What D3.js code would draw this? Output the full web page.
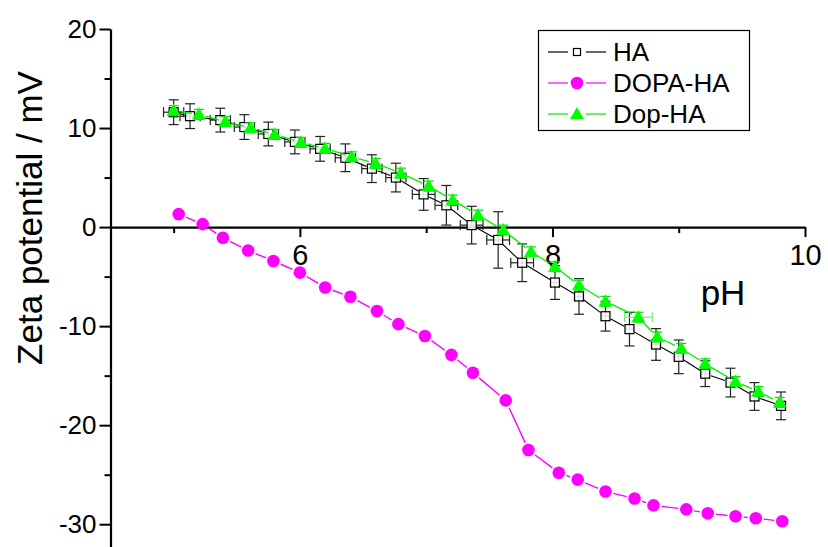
<!DOCTYPE html>
<html>
<head>
<meta charset="utf-8">
<script src="https://cdn.jsdelivr.net/npm/d3@7"></script>
<style>
  body { margin: 0; background: #fff; }
  svg { display: block; font-family: "Liberation Sans", Arial, sans-serif; }
</style>
</head>
<body>
<div id="chart"></div>
<script>
// pH readings and zeta potentials (mV) for each sample
const phHA = [5.00, 5.13, 5.37, 5.56, 5.75, 5.96, 6.16, 6.36, 6.57, 6.76, 6.98, 7.16, 7.36, 7.57, 7.76, 8.02, 8.21, 8.42, 8.61, 8.82, 9.00, 9.21, 9.41, 9.60, 9.81];
const zetaHA = [11.6, 11.2, 10.8, 10.1, 9.4, 8.6, 7.9, 7.0, 5.9, 5.0, 3.3, 2.2, 0.2, -1.3, -3.6, -5.6, -7.0, -9.0, -10.3, -11.85, -13.1, -14.8, -15.7, -17.1, -18.05];
const errHA = [1.25, 1.25, 1.2, 1.25, 1.2, 1.2, 1.25, 1.4, 1.4, 1.45, 1.6, 2.0, 1.9, 2.85, 1.9, 1.7, 1.8, 1.5, 1.7, 1.6, 1.7, 1.3, 1.45, 1.4, 1.4];
const xerrHA = [0.08, 0.08, 0.08, 0.08, 0.08, 0.08, 0.08, 0.08, 0.08, 0.08, 0.09, 0.09, 0.09, 0.09, 0.09, 0.03, 0.03, 0.03, 0.03, 0.03, 0.03, 0.03, 0.03, 0.03, 0.03];

const phDOPA = [5.04, 5.23, 5.39, 5.59, 5.79, 6.00, 6.20, 6.40, 6.61, 6.78, 6.99, 7.20, 7.37, 7.63, 7.81, 8.05, 8.20, 8.42, 8.65, 8.80, 9.06, 9.23, 9.45, 9.61, 9.82];
const zetaDOPA = [1.31, 0.3, -1.08, -2.36, -3.43, -4.6, -6.1, -7.04, -8.48, -9.8, -11.0, -12.9, -14.7, -17.5, -22.5, -24.8, -25.5, -26.7, -27.4, -28.1, -28.5, -28.9, -29.2, -29.4, -29.7];

const phDop = [5.00, 5.20, 5.41, 5.61, 5.80, 6.01, 6.20, 6.41, 6.60, 6.80, 7.02, 7.21, 7.41, 7.61, 7.83, 8.02, 8.21, 8.42, 8.68, 8.83, 9.02, 9.21, 9.45, 9.63, 9.80];
const zetaDop = [11.75, 11.38, 10.64, 10.03, 9.36, 8.56, 7.95, 7.1, 6.43, 5.45, 4.14, 2.73, 1.21, -0.3, -2.5, -4.0, -5.86, -7.5, -9.1, -11.1, -12.25, -13.8, -15.6, -16.6, -17.7];
const errDop = [0.5, 0.5, 0.5, 0.5, 0.5, 0.5, 0.5, 0.5, 0.5, 0.5, 0.5, 0.5, 0.5, 0.5, 0.5, 0.5, 0.5, 0.5, 0.5, 0.5, 0.5, 0.5, 0.5, 0.5, 0.5];
const xerrDop = [0, 0, 0, 0, 0, 0, 0, 0, 0, 0, 0, 0, 0, 0, 0, 0, 0, 0, 0.11, 0, 0, 0, 0, 0, 0];

const xMajor = [6, 8, 10];
const xMinor = [5, 7, 9];
const yMajor = [20, 10, 0, -10, -20, -30];
const yMinor = [15, 5, -5, -15, -25];

const width = 828;
const height = 547;

const svg = d3.select('#chart')
  .append('svg')
  .attr('width', width)
  .attr('height', height);

const x = d3.scaleLinear().domain([4.5, 10]).range([110.5, 805]);
const y = d3.scaleLinear().domain([20, -32.3]).range([29, 547]);

// plain hyphen minus like the original plot
const plainFormat = d => String(d);

// build point records
function zipSeries(ph, zeta, err, xerr) {
  return ph.map((p, i) => ({ ph: p, z: zeta[i], e: err ? err[i] : 0, xe: xerr ? xerr[i] : 0 }));
}
const ha = zipSeries(phHA, zetaHA, errHA, xerrHA);
const dopa = zipSeries(phDOPA, zetaDOPA);
const dop = zipSeries(phDop, zetaDop, errDop, xerrDop);

// axes
const yAxis = svg.append('g')
  .attr('transform', 'translate(110.5,0)')
  .call(d3.axisLeft(y).tickValues(yMajor).tickSize(11).tickSizeOuter(0).tickPadding(3).tickFormat(plainFormat));
svg.append('g')
  .attr('transform', 'translate(110.5,0)')
  .call(d3.axisLeft(y).tickValues(yMinor).tickSize(6).tickSizeOuter(0).tickFormat(''))
  .select('.domain').remove();
yAxis.selectAll('text').attr('font-size', 26).attr('fill', '#000');

const xAxis = svg.append('g')
  .attr('transform', `translate(0,${y(0)})`)
  .call(d3.axisBottom(x).tickValues(xMajor).tickSize(10).tickSizeOuter(0).tickPadding(7).tickFormat(plainFormat));
svg.append('g')
  .attr('transform', `translate(0,${y(0)})`)
  .call(d3.axisBottom(x).tickValues(xMinor).tickSize(6).tickSizeOuter(0).tickFormat(''))
  .select('.domain').remove();
xAxis.selectAll('text').attr('font-size', 29).attr('fill', '#000');

svg.selectAll('.domain').attr('stroke', '#000').attr('stroke-width', 2.2);
svg.selectAll('.tick line').attr('stroke', '#000').attr('stroke-width', 2);

// axis titles
svg.append('text')
  .attr('transform', 'translate(42,218) rotate(-90)')
  .attr('text-anchor', 'middle')
  .attr('font-size', 35)
  .text('Zeta potential / mV');

svg.append('text')
  .attr('x', 723)
  .attr('y', 305)
  .attr('text-anchor', 'middle')
  .attr('font-size', 35)
  .text('pH');

// connecting lines with gaps at the markers
function drawGappedLine(data, color, gap, sw) {
  const pts = data.map(d => [x(d.ph), y(d.z)]);
  const segs = [];
  for (let i = 0; i < pts.length - 1; i++) {
    const [x0, y0] = pts[i];
    const [x1, y1] = pts[i + 1];
    const len = Math.hypot(x1 - x0, y1 - y0);
    if (len <= 2 * gap + 1) continue;
    const ux = (x1 - x0) / len, uy = (y1 - y0) / len;
    segs.push([[x0 + ux * gap, y0 + uy * gap], [x1 - ux * gap, y1 - uy * gap]]);
  }
  svg.append('g')
    .selectAll('line')
    .data(segs)
    .join('line')
    .attr('x1', d => d[0][0]).attr('y1', d => d[0][1])
    .attr('x2', d => d[1][0]).attr('y2', d => d[1][1])
    .attr('stroke', color)
    .attr('stroke-width', sw);
}

function drawErrorBars(data, color, xColor) {
  const g = svg.append('g').attr('stroke', color).attr('stroke-width', 1.2).attr('fill', 'none');
  const cap = 5;
  data.forEach(d => {
    const cx = x(d.ph);
    const cy = y(d.z);
    if (d.e > 0) {
      const t = y(d.z + d.e), b = y(d.z - d.e);
      g.append('line').attr('x1', cx).attr('x2', cx).attr('y1', t).attr('y2', b);
      g.append('line').attr('x1', cx - cap).attr('x2', cx + cap).attr('y1', t).attr('y2', t);
      g.append('line').attr('x1', cx - cap).attr('x2', cx + cap).attr('y1', b).attr('y2', b);
    }
    if (d.xe > 0) {
      const l = x(d.ph - d.xe), r = x(d.ph + d.xe);
      const gx = g.append('g').attr('stroke', xColor || color);
      gx.append('line').attr('x1', l).attr('x2', r).attr('y1', cy).attr('y2', cy);
      gx.append('line').attr('x1', l).attr('x2', l).attr('y1', cy - cap).attr('y2', cy + cap);
      gx.append('line').attr('x1', r).attr('x2', r).attr('y1', cy - cap).attr('y2', cy + cap);
    }
  });
}

// HA
drawGappedLine(ha, '#000', 6, 1.1);
drawErrorBars(ha, '#222');
svg.append('g')
  .selectAll('rect')
  .data(ha)
  .join('rect')
  .attr('x', d => x(d.ph) - 4.5)
  .attr('y', d => y(d.z) - 4.5)
  .attr('width', 9)
  .attr('height', 9)
  .attr('fill', '#fff')
  .attr('fill-opacity', 0.85)
  .attr('stroke', '#000')
  .attr('stroke-width', 1.2);

// DOPA-HA
drawGappedLine(dopa, '#ff00ff', 8, 1.4);
svg.append('g')
  .selectAll('circle')
  .data(dopa)
  .join('circle')
  .attr('cx', d => x(d.ph))
  .attr('cy', d => y(d.z))
  .attr('r', 6.3)
  .attr('fill', '#ff00ff');

// Dop-HA
const tri = d3.symbol().type(d3.symbolTriangle).size(85);
drawGappedLine(dop, '#00ee00', 7, 1.3);
drawErrorBars(dop, '#00dd00', '#77ee77');
svg.append('g')
  .selectAll('path')
  .data(dop)
  .join('path')
  .attr('d', tri)
  .attr('transform', d => `translate(${x(d.ph)},${y(d.z) + 1})`)
  .attr('fill', '#00ff00');

// legend
const legendItems = [
  { name: 'HA', color: '#000', shape: 'square' },
  { name: 'DOPA-HA', color: '#ff00ff', shape: 'circle' },
  { name: 'Dop-HA', color: '#00ee00', shape: 'triangle' }
];
const legend = svg.append('g');
legend.append('rect')
  .attr('x', 538.5).attr('y', 30.5)
  .attr('width', 211).attr('height', 100)
  .attr('fill', '#fff')
  .attr('stroke', '#000')
  .attr('stroke-width', 1.2);

const rows = legend.selectAll('g.item')
  .data(legendItems)
  .join('g')
  .attr('class', 'item')
  .attr('transform', (d, i) => `translate(0,${52 + i * 31})`);

rows.append('line').attr('x1', 548).attr('x2', 568).attr('y1', 0).attr('y2', 0)
  .attr('stroke', d => d.color).attr('stroke-width', 1.2);
rows.append('line').attr('x1', 586).attr('x2', 606).attr('y1', 0).attr('y2', 0)
  .attr('stroke', d => d.color).attr('stroke-width', 1.2);
rows.each(function (d) {
  const g = d3.select(this);
  if (d.shape === 'square') {
    g.append('rect').attr('x', 573.5).attr('y', -3.5).attr('width', 7).attr('height', 7)
      .attr('fill', '#fff').attr('stroke', '#000').attr('stroke-width', 1.2);
  } else if (d.shape === 'circle') {
    g.append('circle').attr('cx', 577).attr('cy', 0).attr('r', 6.3).attr('fill', '#ff00ff');
  } else {
    g.append('path').attr('d', tri).attr('transform', 'translate(577,1)').attr('fill', '#00ff00');
  }
});
rows.append('text')
  .attr('x', 613)
  .attr('y', 9)
  .attr('font-size', 26)
  .text(d => d.name);
</script>
</body>
</html>
